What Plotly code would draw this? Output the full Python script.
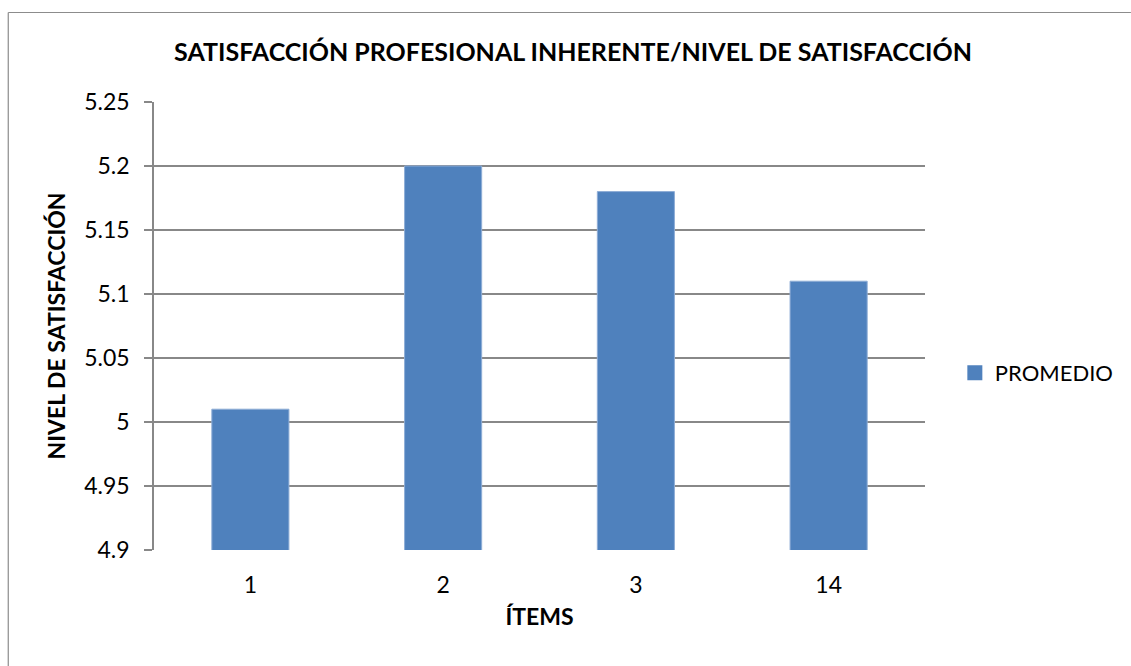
import plotly.graph_objects as go

# Average satisfaction score per item
items = ["1", "2", "3", "14"]
promedio = [5.01, 5.20, 5.18, 5.11]

y_ticks = [4.9, 4.95, 5.0, 5.05, 5.1, 5.15, 5.2, 5.25]
y_tick_text = ["4.9", "4.95", "5", "5.05", "5.1", "5.15", "5.2", "5.25"]

W, H = 1131, 666
L, R, T, B = 154, 202, 102, 116
pw, ph = W - L - R, H - T - B

def px_x(p):
    return (p - L) / pw

def px_y(p):
    return (H - B - p) / ph

FONT = "Lato"
GRID = "#888888"
BAR = "#4F81BD"

fig = go.Figure()
fig.add_trace(go.Bar(
    x=items,
    y=promedio,
    name="PROMEDIO",
    showlegend=False,
    marker=dict(color=BAR, line=dict(color="#8EADD6", width=1)),
))
# Legend entry with a larger square swatch
fig.add_trace(go.Scatter(
    x=[None], y=[None],
    mode="markers",
    name="PROMEDIO",
    marker=dict(symbol="square", size=15, color=BAR),
))

fig.update_layout(
    width=W,
    height=H,
    margin=dict(l=L, r=R, t=T, b=B, pad=0),
    paper_bgcolor="white",
    plot_bgcolor="white",
    bargap=0.6,
    font=dict(family=FONT, size=23, color="#000000"),
    title=dict(
        text="<b>SATISFACCIÓN PROFESIONAL INHERENTE/NIVEL DE SATISFACCIÓN</b>",
        x=573 / W,
        xanchor="center",
        y=1 - 52 / H,
        yanchor="middle",
        font=dict(family=FONT, size=25, color="#000000"),
    ),
    showlegend=True,
    legend=dict(
        x=px_x(959),
        y=px_y(373),
        xanchor="left",
        yanchor="middle",
        font=dict(family=FONT, size=22, color="#000000"),
        bgcolor="rgba(0,0,0,0)",
        itemwidth=30,
    ),
    xaxis=dict(
        type="category",
        showgrid=False,
        showline=False,
        ticks="",
        tickfont=dict(family=FONT, size=23),
        ticklabelstandoff=19,
        title=dict(text="<b>ÍTEMS</b>", font=dict(family=FONT, size=23), standoff=11),
    ),
    yaxis=dict(
        range=[4.9, 5.25],
        tickvals=y_ticks,
        ticktext=y_tick_text,
        showgrid=True,
        gridcolor=GRID,
        gridwidth=1.5,
        showline=True,
        linecolor=GRID,
        linewidth=1.5,
        ticks="outside",
        ticklen=8,
        tickwidth=1.5,
        tickcolor=GRID,
        tickfont=dict(family=FONT, size=23),
        ticklabelstandoff=10,
        zeroline=False,
        title=dict(text="<b>NIVEL DE SATISFACCIÓN</b>", font=dict(family=FONT, size=23), standoff=12),
    ),
)

# Chart frame: top and left edges
fig.add_shape(type="line", xref="paper", yref="paper",
              x0=px_x(7.5), x1=px_x(W + 5), y0=px_y(12.5), y1=px_y(12.5),
              line=dict(color="#8C8C8C", width=1.2))
fig.add_shape(type="line", xref="paper", yref="paper",
              x0=px_x(7.5), x1=px_x(7.5), y0=px_y(12.5), y1=px_y(H + 5),
              line=dict(color="#8C8C8C", width=1.2))

fig.write_html("out.html")
